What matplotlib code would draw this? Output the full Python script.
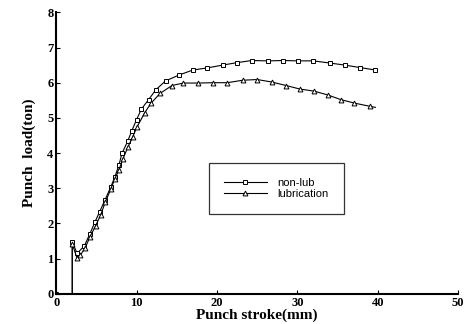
import matplotlib
matplotlib.use("Agg")
import matplotlib.pyplot as plt

# non-lub (squares)
stroke_nonlub = [0.0, 2.0, 2.0, 2.6, 3.5, 4.2, 4.8, 5.4, 6.1, 6.8, 7.3, 7.8, 8.2, 8.9, 9.4,
                 10.0, 10.6, 11.5, 12.4, 13.6, 15.3, 17.0, 18.8, 20.7, 22.5, 24.3, 26.3,
                 28.2, 30.1, 32.0, 34.0, 35.9, 37.8, 39.7]
load_nonlub = [0.0, 0.0, 1.48, 1.15, 1.36, 1.71, 2.03, 2.33, 2.68, 3.04, 3.32, 3.66, 4.0,
               4.34, 4.63, 4.95, 5.25, 5.52, 5.8, 6.05, 6.22, 6.36, 6.42, 6.5, 6.57, 6.63,
               6.62, 6.63, 6.62, 6.62, 6.56, 6.5, 6.43, 6.36]

# lubrication (triangles)
stroke_lub = [0.0, 2.0, 2.0, 2.6, 3.0, 3.6, 4.2, 4.9, 5.55, 6.1, 6.8, 7.3, 7.8, 8.3, 8.9,
              9.5, 10.05, 11.0, 11.8, 12.95, 14.4, 15.8, 17.7, 19.5, 21.3, 23.2, 25.0,
              26.8, 28.6, 30.3, 32.1, 33.8, 35.4, 37.1, 39.0, 39.7]
load_lub = [0.0, 0.0, 1.42, 1.01, 1.1, 1.3, 1.62, 1.93, 2.25, 2.6, 2.98, 3.27, 3.52, 3.83,
            4.16, 4.45, 4.74, 5.14, 5.42, 5.7, 5.92, 5.99, 5.99, 6.0, 6.0, 6.07, 6.09,
            6.02, 5.92, 5.82, 5.76, 5.65, 5.52, 5.42, 5.33, 5.3]

fig = plt.figure(figsize=(4.68, 3.24), dpi=100)
ax = fig.add_axes([0.12, 0.093, 0.859, 0.869])

ax.plot(stroke_nonlub, load_nonlub, color="black", lw=0.8, marker="s", ms=3.5,
        mfc="white", mec="black", mew=0.7, markevery=[0] + list(range(2, len(stroke_nonlub))),
        label="non-lub")
ax.plot(stroke_lub, load_lub, color="black", lw=0.8, marker="^", ms=3.5,
        mfc="white", mec="black", mew=0.7, markevery=list(range(2, len(stroke_lub) - 1)),
        label="lubrication")

ax.set_xlim(0, 50)
ax.set_ylim(0, 8)
ax.set_xticks([0, 10, 20, 30, 40, 50])
ax.set_yticks(range(0, 9))
ax.spines["top"].set_visible(False)
ax.spines["right"].set_visible(False)
ax.spines["left"].set_linewidth(1.5)
ax.spines["bottom"].set_linewidth(1.5)
ax.tick_params(direction="in", length=3, width=0.8, pad=2)
for lbl in ax.get_xticklabels() + ax.get_yticklabels():
    lbl.set_fontfamily("Liberation Serif")
    lbl.set_fontweight("bold")
    lbl.set_fontsize(9)

ax.set_xlabel("Punch stroke(mm)", fontfamily="Liberation Serif", fontweight="bold",
              fontsize=11, labelpad=0)
ax.set_ylabel("Punch  load(ton)", fontfamily="Liberation Serif", fontweight="bold",
              fontsize=11, labelpad=8)

leg = ax.legend(loc="upper left", bbox_to_anchor=(0.381, 0.465), frameon=True,
                fancybox=False, edgecolor="black", handlelength=3.8, borderpad=1.35,
                handletextpad=1.0, labelspacing=0.1, borderaxespad=0,
                prop={"family": "Liberation Sans", "size": 8})
leg.get_frame().set_linewidth(0.9)

fig.savefig("out.png", dpi=100)
